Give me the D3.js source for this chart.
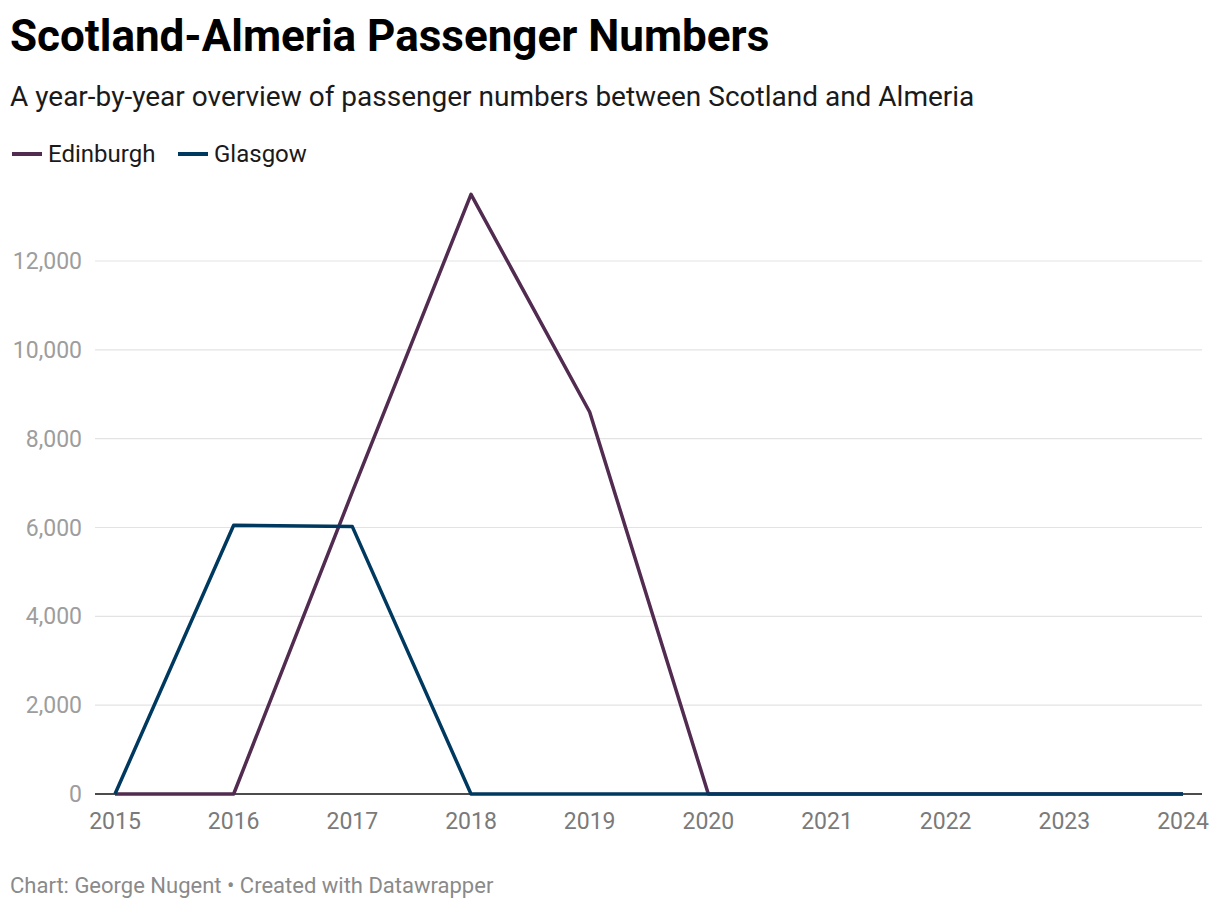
<!DOCTYPE html>
<html>
<head>
<meta charset="utf-8">
<script src="https://cdn.jsdelivr.net/npm/d3@7"></script>
<style>
  body { margin: 0; background: #fff; font-family: Roboto, sans-serif; }
</style>
</head>
<body>
<svg id="chart" width="1220" height="910"></svg>
<script>
// Chart data
const years = [2015, 2016, 2017, 2018, 2019, 2020, 2021, 2022, 2023, 2024];
const edinburgh = [0, 0, 6800, 13500, 8600, 0, 0, 0, 0, 0];
const glasgow = [0, 6050, 6020, 0, 0, 0, 0, 0, 0, 0];
const yTicks = [0, 2000, 4000, 6000, 8000, 10000, 12000];

const seriesNames = ['Edinburgh', 'Glasgow'];
const seriesColors = ['#512b50', '#00395f'];

const svg = d3.select('#chart');

// Header
svg.append('text')
    .attr('x', 10).attr('y', 51)
    .style('font-size', '44px').style('font-weight', 'bold')
    .attr('fill', '#000')
    .text('Scotland-Almeria Passenger Numbers');

svg.append('text')
    .attr('x', 10).attr('y', 106)
    .style('font-size', '28px')
    .attr('fill', '#1a1a1a')
    .text('A year-by-year overview of passenger numbers between Scotland and Almeria');

// Legend
const legendX = [12, 178];
seriesNames.forEach((name, i) => {
    svg.append('line')
        .attr('x1', legendX[i]).attr('x2', legendX[i] + 30)
        .attr('y1', 154).attr('y2', 154)
        .attr('stroke', seriesColors[i]).attr('stroke-width', 4);
    svg.append('text')
        .attr('x', legendX[i] + 36).attr('y', 162)
        .style('font-size', '24px')
        .attr('fill', '#1a1a1a')
        .text(name);
});

// Scales
const x = d3.scaleLinear().domain([2015, 2024]).range([115, 1183]);
const y = d3.scaleLinear().domain([0, 12000]).range([794, 261]);

// Gridlines
svg.append('g')
    .selectAll('line')
    .data(yTicks.filter(d => d > 0))
    .enter()
    .append('line')
    .attr('x1', 95).attr('x2', 1202)
    .attr('y1', d => y(d)).attr('y2', d => y(d))
    .attr('stroke', '#e3e3e3').attr('stroke-width', 1.2);

// Y labels
svg.append('g')
    .selectAll('text')
    .data(yTicks)
    .enter()
    .append('text')
    .attr('x', 82)
    .attr('y', d => y(d) + 8)
    .attr('text-anchor', 'end')
    .style('font-size', '23px')
    .attr('fill', '#9d9d9d')
    .text(d => d3.format(',')(d));

// X labels
svg.append('g')
    .selectAll('text')
    .data(years)
    .enter()
    .append('text')
    .attr('x', d => x(d))
    .attr('y', 829)
    .attr('text-anchor', 'middle')
    .style('font-size', '23px')
    .attr('fill', '#7a7a7a')
    .text(d => d);

// Baseline
svg.append('line')
    .attr('x1', 95).attr('x2', 1202)
    .attr('y1', y(0)).attr('y2', y(0))
    .attr('stroke', '#111').attr('stroke-width', 1.5);

// Lines
const line = d3.line()
    .x((d, i) => x(years[i]))
    .y(d => y(d));

[edinburgh, glasgow].forEach((vals, i) => {
    svg.append('path')
        .datum(vals)
        .attr('d', line)
        .attr('fill', 'none')
        .attr('stroke', seriesColors[i])
        .attr('stroke-width', 3.5)
        .attr('stroke-linejoin', 'round');
});

// Footer
svg.append('text')
    .attr('x', 10).attr('y', 893)
    .style('font-size', '22px')
    .attr('fill', '#8a8a8a')
    .text('Chart: George Nugent • Created with Datawrapper');
</script>
</body>
</html>
